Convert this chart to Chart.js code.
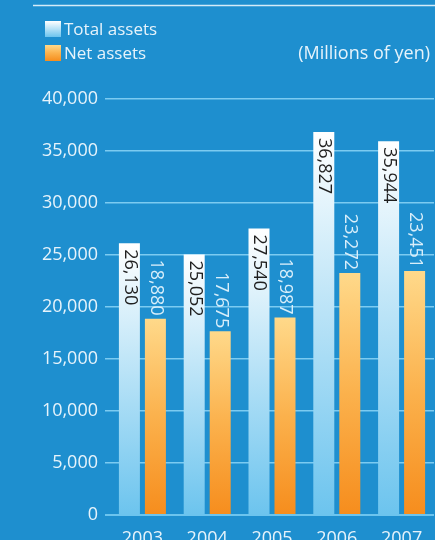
<!DOCTYPE html>
<html>
<head>
<meta charset="utf-8">
<script src="https://cdn.jsdelivr.net/npm/chart.js@4/dist/chart.umd.min.js"></script>
<style>
  html, body { margin: 0; padding: 0; background: #1e8fcf; }
  #wrap { width: 435px; height: 540px; position: relative; }
</style>
</head>
<body>
<div id="wrap"><canvas id="c" width="435" height="540"></canvas></div>
<script>
// Fiscal years and balances (millions of yen)
const years = ['2003', '2004', '2005', '2006', '2007'];
const totalAssets = [26130, 25052, 27540, 36827, 35944];
const netAssets = [18880, 17675, 18987, 23272, 23451];
const seriesNames = ['Total assets', 'Net assets'];
const unitNote = '(Millions of yen)';

const FONT = '"Open Sans", "DejaVu Sans", sans-serif';
const FONT_SIZE = 18;
const TEXT_LIGHT = '#e6f3fb';

// Vertical gradient for each bar, from its top down to the baseline
function barGradient(stops) {
  return function (ctx) {
    const chart = ctx.chart;
    if (!chart.chartArea || ctx.raw === undefined) return stops[stops.length - 1][1];
    const y = chart.scales.y;
    const top = y.getPixelForValue(ctx.raw);
    const bottom = y.getPixelForValue(0);
    const g = chart.ctx.createLinearGradient(0, top, 0, bottom);
    stops.forEach(s => g.addColorStop(s[0], s[1]));
    return g;
  };
}
const totalStops = [[0, '#ffffff'], [1, '#6cc4ee']];
const netStops = [[0, '#ffd98a'], [0.5, '#fbb14c'], [1, '#f68d1d']];

// Legend, unit note and top rule
const decorations = {
  id: 'decorations',
  beforeDraw(chart) {
    const c = chart.ctx;
    c.save();
    c.strokeStyle = '#d4ebf8';
    c.lineWidth = 1.5;
    c.beginPath();
    c.moveTo(33, 5.5);
    c.lineTo(435, 5.5);
    c.stroke();

    const rows = [[21, totalStops], [45, netStops]];
    c.textBaseline = 'alphabetic';
    c.font = '17px ' + FONT;
    rows.forEach((r, i) => {
      const g = c.createLinearGradient(0, r[0], 0, r[0] + 16);
      r[1].forEach(s => g.addColorStop(s[0], s[1]));
      c.fillStyle = g;
      c.fillRect(45, r[0], 16, 16);
      c.fillStyle = TEXT_LIGHT;
      c.textAlign = 'left';
      c.fillText(seriesNames[i], 64, r[0] + 14);
    });
    c.font = FONT_SIZE + 'px ' + FONT;
    c.textAlign = 'right';
    c.fillText(unitNote, 430, 59);
    c.restore();
  }
};

// Rotated value labels: inside the top of the total bars, above the net bars
const valueLabels = {
  id: 'valueLabels',
  afterDatasetsDraw(chart) {
    const c = chart.ctx;
    c.save();
    c.font = FONT_SIZE + 'px ' + FONT;
    c.textBaseline = 'middle';
    chart.data.datasets.forEach((ds, di) => {
      const meta = chart.getDatasetMeta(di);
      meta.data.forEach((bar, i) => {
        const txt = ds.data[i].toLocaleString('en-US');
        c.save();
        c.translate(bar.x + 0.5, bar.y);
        c.rotate(Math.PI / 2);
        if (di === 0) {
          c.fillStyle = '#1f1f1f';
          c.textAlign = 'left';
          c.fillText(txt, 6, 0);
        } else {
          c.fillStyle = '#d8eefa';
          c.textAlign = 'right';
          c.fillText(txt, -3, 0);
        }
        c.restore();
      });
    });
    c.restore();
  }
};

new Chart(document.getElementById('c'), {
  type: 'bar',
  data: {
    labels: years,
    datasets: [
      { label: seriesNames[0], data: totalAssets, backgroundColor: barGradient(totalStops),
        categoryPercentage: 0.8025, barPercentage: 0.8077 },
      { label: seriesNames[1], data: netAssets, backgroundColor: barGradient(netStops),
        categoryPercentage: 0.8025, barPercentage: 0.8077 }
    ]
  },
  options: {
    responsive: false,
    animation: false,
    events: [],
    layout: { padding: { top: 99, right: 1, left: 0, bottom: 0 } },
    plugins: { legend: { display: false }, tooltip: { enabled: false } },
    scales: {
      x: {
        grid: { display: false },
        border: { display: false },
        ticks: { color: TEXT_LIGHT, font: { family: FONT, size: FONT_SIZE }, padding: 5, maxRotation: 0 },
        afterFit(s) { s.height = 25; }
      },
      y: {
        min: 0, max: 40000,
        border: { display: false },
        grid: {
          color: ctx => ctx.tick && ctx.tick.value === 0 ? '#6cc4ee' : '#7ccbf1',
          lineWidth: ctx => ctx.tick && ctx.tick.value === 0 ? 2 : 1.5,
          drawTicks: true, tickLength: 5
        },
        ticks: {
          stepSize: 5000,
          color: TEXT_LIGHT,
          font: { family: FONT, size: FONT_SIZE },
          padding: 7,
          callback: v => v.toLocaleString('en-US')
        },
        afterFit(s) { s.width = 110; }
      }
    }
  },
  plugins: [decorations, valueLabels]
});
</script>
</body>
</html>
